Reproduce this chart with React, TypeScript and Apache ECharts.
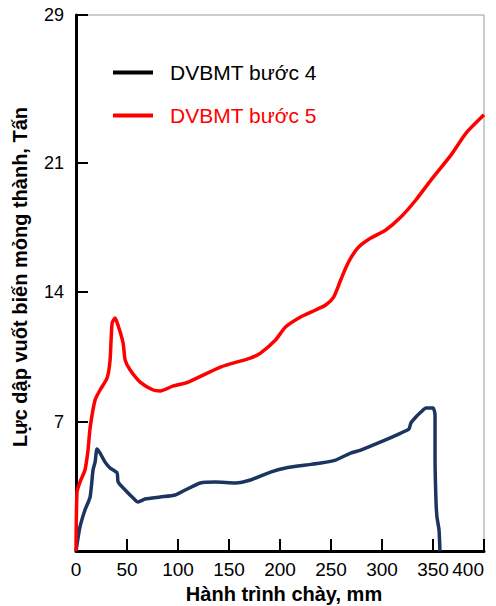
import React, { useEffect, useRef } from "react";
import * as echarts from "echarts";

const xTicks = [0, 50, 100, 150, 200, 250, 300, 350, 400];
const yTickValues = [7, 14, 21, 29];

const seriesNames = ["DVBMT bước 4", "DVBMT bước 5"];
const xAxisTitle = "Hành trình chày, mm";
const yAxisTitle = "Lực dập vuốt biến mỏng thành, Tấn";

// DVBMT bước 4 (x mm, y Tấn)
const step4X = [0, 3.9, 8.8, 13.8, 16.7, 18.7, 20.6, 23.6, 28.5, 33.4, 40.3, 41.3, 48.2, 56, 60.9, 67.8, 82.6, 97.3, 107.1, 121.9, 136.6, 156.3, 171, 190.7, 205.4, 225.1, 239.9, 254.6, 269.3, 279.2, 298.8, 318.5, 326.4, 328.3, 333.2, 338.2, 343.1, 350, 352, 352, 352.9, 353.9, 355.9, 356.8];
const step4Y = [0, 1.3, 2.22, 2.92, 4.38, 4.81, 5.52, 5.3, 4.81, 4.49, 4.22, 3.73, 3.3, 2.87, 2.65, 2.81, 2.92, 3.03, 3.3, 3.68, 3.73, 3.68, 3.84, 4.27, 4.49, 4.65, 4.76, 4.92, 5.3, 5.46, 5.9, 6.38, 6.6, 6.92, 7.25, 7.52, 7.74, 7.74, 7.36, 5.09, 2.76, 1.84, 1.14, 0];

// DVBMT bước 5
const step5X = [0, 1, 3.9, 8.8, 11.8, 13.8, 18.7, 23.6, 30.5, 33.4, 35.4, 38.3, 41.3, 46.2, 48.2, 53.1, 62.9, 75.7, 82.6, 95.4, 110.1, 141.6, 171, 180.9, 195.6, 205.4, 220.2, 235, 244.8, 252.6, 259.5, 264.4, 269.3, 277.2, 289, 303.7, 318.5, 333.2, 348, 367.6, 382.4, 400];
const step5Y = [0, 3.19, 3.73, 4.38, 5.46, 6.65, 8.17, 8.71, 9.36, 10.33, 12.33, 12.6, 12.2, 11.25, 10.33, 9.79, 9.14, 8.71, 8.66, 8.93, 9.14, 9.95, 10.44, 10.71, 11.42, 12.12, 12.66, 13.04, 13.31, 13.74, 14.66, 15.31, 15.85, 16.45, 16.93, 17.37, 18.07, 18.99, 20.07, 21.42, 22.61, 23.6];

const FONT = "'Liberation Sans', Arial, sans-serif";

export default function App() {
  const ref = useRef<HTMLDivElement>(null);
  useEffect(() => {
    document.body.style.margin = "0";
    if (!ref.current) return;
    const chart = echarts.init(ref.current, null, { renderer: "svg" });
    const zip = (xs: number[], ys: number[]) => xs.map((x, i) => [x, ys[i]]);
    chart.setOption({
      animation: false,
      backgroundColor: "#ffffff",
      textStyle: { fontFamily: FONT },
      grid: {
        left: 76,
        right: 12,
        top: 15,
        bottom: 55,
        containLabel: false,
        outerBoundsMode: "none",
        show: true,
        borderColor: "#9a9a9a",
        borderWidth: 1,
      },
      legend: {
        orient: "vertical",
        left: 113,
        top: 62,
        padding: 0,
        icon: "rect",
        itemWidth: 40,
        itemHeight: 4,
        itemGap: 22,
        textStyle: { fontSize: 21, fontFamily: FONT, padding: [0, 0, 0, 12] },
        data: [
          {
            name: seriesNames[0],
            itemStyle: { color: "#000000" },
            lineStyle: { color: "#000000" },
            textStyle: { color: "#000000" },
          },
          {
            name: seriesNames[1],
            itemStyle: { color: "#ff0000" },
            textStyle: { color: "#ff0000" },
          },
        ],
      },
      graphic: [
        {
          type: "text",
          x: 284,
          y: 594,
          style: {
            text: xAxisTitle,
            font: `bold 20px ${FONT}`,
            fill: "#000",
            align: "center",
            verticalAlign: "middle",
          },
        },
        {
          type: "text",
          x: 20,
          y: 277,
          rotation: Math.PI / 2,
          style: {
            text: yAxisTitle,
            font: `bold 20px ${FONT}`,
            fill: "#000",
            align: "center",
            verticalAlign: "middle",
          },
        },
      ],
      xAxis: {
        type: "value",
        min: xTicks[0],
        max: xTicks[xTicks.length - 1],
        interval: 50,
        axisLine: { show: true, lineStyle: { color: "#000", width: 3 } },
        axisTick: { show: true, inside: true, length: 12, lineStyle: { color: "#000", width: 2 } },
        axisLabel: {
          fontSize: 19,
          color: "#000",
          margin: 9,
          showMinLabel: true,
          showMaxLabel: true,
          alignMaxLabel: "right",
          fontFamily: FONT,
        },
        splitLine: { show: false },
      },
      yAxis: {
        type: "value",
        min: 0,
        max: 29,
        axisLine: { show: true, lineStyle: { color: "#000", width: 3 } },
        axisTick: {
          show: true,
          inside: true,
          length: 12,
          customValues: yTickValues,
          lineStyle: { color: "#000", width: 2 },
        },
        axisLabel: {
          fontSize: 18,
          color: "#000",
          margin: 12,
          customValues: yTickValues,
          fontFamily: FONT,
        },
        splitLine: { show: false },
      },
      series: [
        {
          name: seriesNames[0],
          type: "line",
          data: zip(step4X, step4Y),
          symbol: "none",
          smooth: 0.2,
          lineStyle: { color: "#1c3560", width: 3.5 },
          itemStyle: { color: "#1c3560" },
        },
        {
          name: seriesNames[1],
          type: "line",
          data: zip(step5X, step5Y),
          symbol: "none",
          smooth: 0.2,
          lineStyle: { color: "#ff0000", width: 3.5 },
          itemStyle: { color: "#ff0000" },
        },
      ],
    });
    return () => chart.dispose();
  }, []);
  return <div ref={ref} style={{ width: 496, height: 606 }} />;
}
